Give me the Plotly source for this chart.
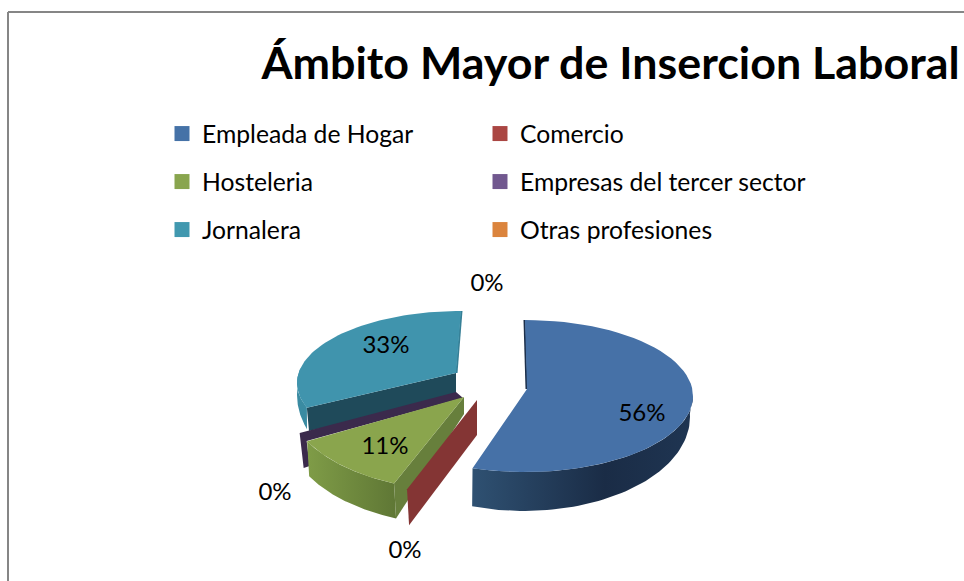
import numpy as np
import plotly.graph_objects as go

# ---- data ----
TITLE = "Ámbito Mayor de Insercion Laboral"
categories = ["Empleada de Hogar", "Comercio", "Hosteleria",
              "Empresas del tercer sector", "Jornalera", "Otras profesiones"]
values = [56, 0, 11, 0, 33, 0]

# ---- style ----
FONT = "Lato"
legend_colors = ["#4572A7", "#AA4643", "#89A54E", "#71588F", "#4198AF", "#DB843D"]
label_pos = [(642, 415), (405, 552), (385, 448), (275, 494), (386, 347), (487, 285)]
TXT = "#000000"

total = sum(values)
edges = np.concatenate([[0], np.cumsum(values)]) / total * 360.0


def rim(c, r, a):
    a = np.radians(a)
    return c[0] + r[0] * np.sin(a), c[1] - r[1] * np.cos(a)


def arc(c, r, a0, a1, n=60):
    return rim(c, r, np.linspace(a0, a1, n))


def poly(xs, ys, color=None, grad=None):
    kw = dict(fillgradient=dict(type="horizontal", colorscale=grad)) if grad else dict(fillcolor=color)
    return go.Scatter(x=list(xs), y=list(ys), mode="lines", fill="toself",
                      line=dict(width=0), showlegend=False, hoverinfo="skip", **kw)


def top_face(apex, c, r, a0, a1, color):
    x, y = arc(c, r, a0, a1)
    return poly(np.r_[apex[0], x], np.r_[apex[1], y], color)


def outer_wall(c, r, c2, r2, a0, a1, color=None, grad=None):
    x, y = arc(c, r, a0, a1)
    x2, y2 = arc(c2, r2, a1, a0)
    return poly(np.r_[x, x2], np.r_[y, y2], color, grad)


def flat_wall(apex, apex2, c, r, c2, r2, a, color):
    p, q = rim(c, r, a), rim(c2, r2, a)
    return poly([apex[0], p[0], q[0], apex2[0]], [apex[1], p[1], q[1], apex2[1]], color)


fig = go.Figure()

# Jornalera (slice 4)
a0, a1 = edges[4] + 8.8, edges[5]
ap, c, r = (456, 373), (461, 383), (164, 72)
fig.add_trace(outer_wall(c, r, (463, 395), (166, 100), a0, a0 + 32, "#3a8ba2"))
fig.add_trace(flat_wall(ap, (456, 396), c, r, (309, 431), (0, 0), a0, "#1f4a5a"))
fig.add_trace(go.Scatter(x=[rim(c, r, a1)[0] + 0.5, ap[0] + 0.5], y=[rim(c, r, a1)[1], ap[1]],
                         mode="lines", line=dict(color="#367f96", width=2),
                         showlegend=False, hoverinfo="skip"))
fig.add_trace(top_face(ap, c, r, a0, a1, "#4094ad"))

# Empresas del tercer sector (slice 3, 0 %: a thin wall)
a = edges[3]
ap, c, r = (456, 392), (453, 392), (175, 85)
p = rim(c, r, a)
fig.add_trace(poly([ap[0], p[0], p[0] + 4, p[0] + 10, p[0] + 7, ap[0] + 7],
                   [ap[1], p[1], p[1] + 35, p[1] + 33, p[1] + 8, ap[1] + 6], "#3b2a4c"))

# Hosteleria (slice 2)
a0, a1 = edges[2], edges[3]
ap, c, r = (464, 397), (457, 396), (171, 94)
c2 = (459, 431)
fig.add_trace(outer_wall(c, r, c2, r, a0, a1, grad=[[0, "#7f9c47"], [1, "#5f7735"]]))
fig.add_trace(flat_wall(ap, (464, 414), c, r, c2, r, a0, "#677f3c"))
fig.add_trace(top_face(ap, c, r, a0, a1, "#8aa54d"))

# Comercio (slice 1, 0 %: a thin wall)
fig.add_trace(flat_wall((477, 400), (477, 435), (470, 400), (171, 96), (472, 436), (171, 96),
                        edges[1], "#843534"))

# Empleada de Hogar (slice 0)
a0, a1 = edges[0], edges[1] - 3.4
ap, c, r = (527, 389), (525, 396), (168, 76)
c2, r2 = (524, 417), (166, 94)
fig.add_trace(outer_wall(c, r, c2, r2, 88, a1,
                         grad=[[0, "#2f5172"], [0.6, "#1a2c46"], [1, "#1f3552"]]))
fig.add_trace(go.Scatter(x=[rim(c, r, a0)[0] - 0.5, ap[0] - 0.5], y=[rim(c, r, a0)[1], ap[1]],
                         mode="lines", line=dict(color="#1c2f4a", width=2),
                         showlegend=False, hoverinfo="skip"))
fig.add_trace(top_face(ap, c, r, a0, a1, "#4671a7"))

# percentage labels
fig.add_trace(go.Scatter(x=[p[0] for p in label_pos], y=[p[1] for p in label_pos],
                         mode="text", text=[f"{v}%" for v in values],
                         textfont=dict(family=FONT, size=24, color=TXT),
                         showlegend=False, hoverinfo="skip"))

W, H = 964, 581

# legend: one legend box per entry, in two columns of three rows
legend_layout = {}
for i, (name, col) in enumerate(zip(categories, legend_colors)):
    key = "legend" if i == 0 else f"legend{i + 1}"
    fig.add_trace(go.Scatter(x=[None], y=[None], mode="markers", name=name,
                             marker=dict(symbol="square", size=15, color=col),
                             legend=key, hoverinfo="skip"))
    legend_layout[key] = dict(
        itemsizing="trace", itemclick=False, itemdoubleclick=False,
        xanchor="left", yanchor="middle",
        x=(162 + 318 * (i % 2)) / W, y=1 - (134 + 48 * (i // 2)) / H,
        bgcolor="rgba(0,0,0,0)", borderwidth=0,
        font=dict(family=FONT, size=24.7, color=TXT))

fig.update_layout(
    width=W, height=H, autosize=False,
    margin=dict(l=0, r=0, t=0, b=0),
    paper_bgcolor="white", plot_bgcolor="white",
    title=dict(text=f"<b>{TITLE}</b>", x=610.5 / W, xanchor="center", xref="paper",
               y=1 - 63 / H, yanchor="middle", yref="container",
               font=dict(family=FONT, size=44.8, color=TXT)),
    xaxis=dict(range=[0, W], visible=False, fixedrange=True),
    yaxis=dict(range=[H, 0], visible=False, fixedrange=True),
    shapes=[
        dict(type="line", xref="x", yref="y", x0=8, x1=W, y0=12, y1=12,
             line=dict(color="#868686", width=2)),
        dict(type="line", xref="x", yref="y", x0=8, x1=8, y0=12, y1=H,
             line=dict(color="#868686", width=2)),
    ],
    **legend_layout,
)

fig.write_html("out.html", post_script="document.body.style.margin='0'",
               config=dict(displayModeBar=False))
